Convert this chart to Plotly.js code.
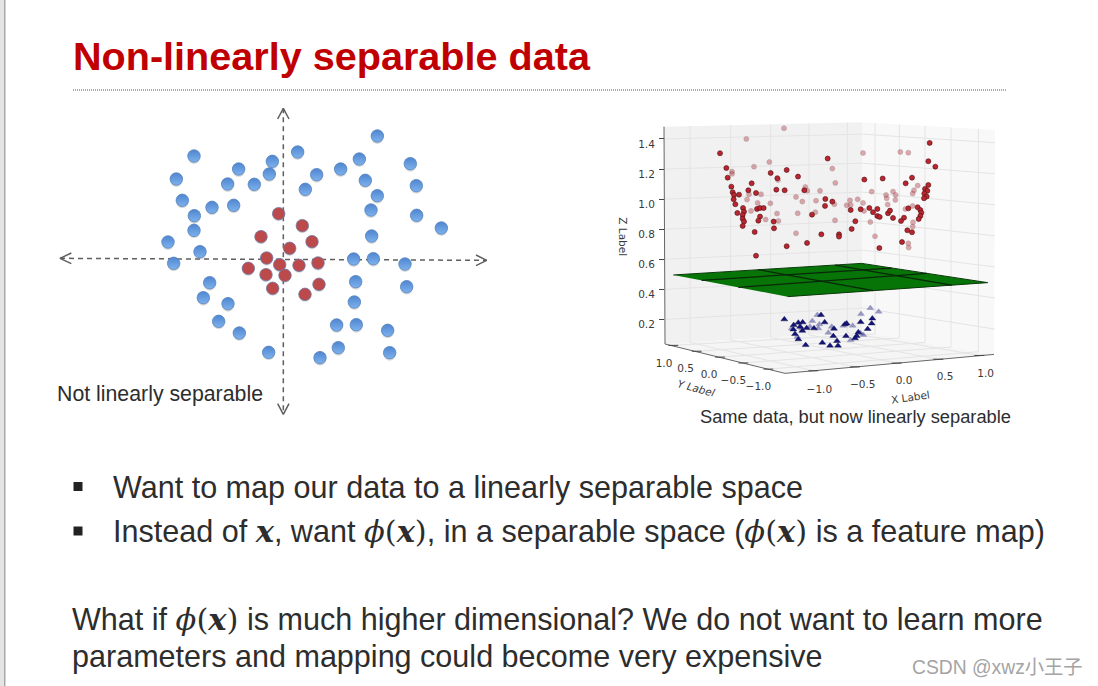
<!DOCTYPE html>
<html><head><meta charset="utf-8">
<script src="https://cdn.plot.ly/plotly-3.0.1.min.js"></script>
<style>html,body{margin:0;padding:0;background:#fff}#c{width:1098px;height:686px}</style>
</head><body><div id="c"></div>
<script>
// ---- left panel: two classes in the original (non separable) plane
const blueX=[282,43,-268,228,381,-33,-134,172,100,-42,-321,-167,-87,246,399,66,282,-303,-214,-149,263,-267,400,-268,474,265,-346,-250,-329,211,270,365,-221,217,370,-240,-166,213,-194,-132,160,219,313,165,-44,110,319];
const blueY=[370,322,310,301,287,294,271,271,254,256,241,226,225,237,221,210,191,177,156,162,148,131,132,87,94,70,52,23,-12,1,2,-14,-70,-67,-82,-115,-133,-128,-186,-221,-197,-196,-213,-265,-279,-295,-280];
const redX=[-14,57,-67,86,19,-50,-11,47,104,-105,-52,5,-32,107,65];
const redY=[137,101,68,53,33,4,-16,-18,-11,-27,-46,-48,-87,-75,-105];
const arrowH={x:[-670,610],y:[3,-3]};
const arrowV={x:[0,0],y:[453,-465]};
const headLeft={x:[-636,-670,-636],y:[19,3,-13]};
const headRight={x:[578,610,578],y:[13,-3,-19]};
const headTop={x:[-17,0,17],y:[421,453,421]};
const headBottom={x:[-17,0,17],y:[-433,-465,-433]};

// ---- right panel: projected 3D view (h = horizontal screen position, z = Z axis value)
const upperDarkH=[330,349,353,364,368,372,387,371,376,382,399,402,398,398,402,398,434,438,415,425,438,441,450,461,450,445,482,502,499,524,530,564,583,646,645,667,606,491,492,530,591,634,687,687,653,763,818,725,736,722,752,778,789,802,802,809,808,834,840,849,873,882,892,906,876,887,906,955,959,976,955,945,952,943,950,942,923,931,934,931,926,895];
const upperDarkZ=[1.305,1.207,1.143,1.083,1.046,1.028,1.030,0.999,0.966,0.908,0.941,0.917,0.895,0.870,0.851,0.822,0.782,0.624,1.059,1.105,1.041,0.935,0.941,0.941,0.884,0.857,1.174,1.139,1.063,1.059,1.194,1.150,1.059,1.001,0.955,0.984,0.897,0.851,0.806,0.687,0.709,0.766,0.766,0.751,1.270,1.130,1.137,0.802,0.853,0.928,0.933,0.941,0.913,0.935,0.888,0.882,0.675,0.906,0.924,0.875,0.855,0.877,0.793,0.780,0.715,1.105,1.143,1.252,1.374,1.216,1.094,1.068,1.055,1.037,1.017,1.006,0.946,0.928,0.910,0.888,0.868,0.939];
const upperFadedH=[522,409,478,432,366,366,504,453,411,417,423,443,467,481,501,505,558,577,563,616,618,630,586,592,558,667,676,673,675,710,720,722,743,759,759,762,781,795,785,828,830,849,857,856,833,871,895,923,912,908,886,908,909,908,895,896];
const upperFadedZ=[1.471,1.400,1.247,1.216,1.183,1.168,1.128,1.032,0.997,1.032,0.922,0.975,0.864,0.972,0.904,0.855,1.015,0.984,0.906,0.913,0.990,1.055,1.081,1.055,0.773,1.203,1.108,0.966,0.859,0.959,0.992,0.961,0.999,0.975,1.307,0.922,0.848,0.753,1.050,1.028,1.006,1.050,1.028,0.995,0.964,1.314,1.309,1.090,1.059,1.037,0.935,0.955,0.846,0.817,0.706,0.678];
const lowerDarkH=[523,551,565,578,570,577,590,612,633,644,672,550,555,565,587,637,660,684,681,705,710,752,787,785,773,745,740,735,708,670];
const lowerDarkZ=[0.201,0.163,0.179,0.181,0.152,0.125,0.143,0.141,0.230,0.181,0.139,0.134,0.103,0.068,0.030,0.046,0.026,0.026,0.057,0.168,0.174,0.183,0.207,0.174,0.137,0.115,0.090,0.075,0.090,0.090];
const lowerFadedH=[622,607,628,625,655,665,700,728,753,781,806,722,752,760,600,575,545,562];
const lowerFadedZ=[0.230,0.190,0.168,0.141,0.112,0.152,0.159,0.159,0.236,0.276,0.252,0.063,0.108,0.097,0.152,0.141,0.141,0.085];

const wallLeft={h:[162,757,757,165],z:[1.482,1.511,0.119,0.037]};
const wallRight={h:[757,1155,1152,757],z:[1.511,1.460,-0.032,0.119]};
const floorPane={h:[165,525,1152,757],z:[0.037,-0.158,-0.032,0.119]};
const zTicks=[0.2,0.4,0.6,0.8,1.0,1.2,1.4];
const zAtBack=[0.276,0.469,0.661,0.854,1.047,1.239,1.432];
const zAtRight=[0.136,0.343,0.549,0.756,0.962,1.169,1.375];
const gridLeftH=[240,362,482,597,712];
const gridLeftLow=[0.048,0.064,0.081,0.097,0.113];
const gridLeftTop=[1.486,1.492,1.498,1.503,1.509];
const gridRightH=[795,868,945,1023,1105];
const gridRightLow=[0.104,0.077,0.047,0.017,-0.014];
const gridRightTop=[1.506,1.497,1.487,1.477,1.467];
const yTickH=[190,260,330,400,475];
const yTickZ=[0.028,-0.011,-0.050,-0.089,-0.130];
const xTickH=[610,735,860,985,1108];
const xTickZ=[-0.141,-0.115,-0.090,-0.064,-0.039];
const yLabels=['1.0','0.5','0.0','\u22120.5','\u22121.0'];
const yLabelH=[162,227,297,370,445];
const yLabelZ=[-0.096,-0.129,-0.169,-0.213,-0.251];
const xLabels=['\u22121.0','\u22120.5','0.0','0.5','1.0'];
const xLabelH=[628,758,882,1005,1127];
const xLabelZ=[-0.269,-0.240,-0.209,-0.185,-0.163];
const planeH=[190,755,1133,533];
const planeZ=[0.496,0.573,0.445,0.352];
const planeLines=[[385,0.414,950,0.507],[275,0.460,845,0.542],[445,0.531,790,0.392],[675,0.562,1025,0.429]];

const traces=[];
const L={xaxis:'x',yaxis:'y',hoverinfo:'skip',showlegend:false};
const R={xaxis:'x2',yaxis:'y2',hoverinfo:'skip',showlegend:false};
const dashLine={color:'#5f5f5f',width:1.5,dash:'5px,4px'};
const headLine={color:'#5f5f5f',width:1.5};
[arrowH,arrowV].forEach(a=>traces.push({...L,x:a.x,y:a.y,mode:'lines',line:dashLine}));
[headLeft,headRight,headTop,headBottom].forEach(a=>traces.push({...L,x:a.x,y:a.y,mode:'lines',line:headLine}));
traces.push({...L,x:blueX,y:blueY.map(v=>v-6),mode:'markers',marker:{size:12,color:'#8a8a8a',opacity:0.3}});
traces.push({...L,x:redX,y:redY.map(v=>v-5),mode:'markers',marker:{size:12,color:'#8a8a8a',opacity:0.25}});
traces.push({...L,x:blueX,y:blueY,mode:'markers',marker:{size:12.5,color:'#4f85cf',gradient:{type:'vertical',color:'#7db2ee'},line:{color:'#5583bd',width:0.8}}});
traces.push({...L,x:redX,y:redY,mode:'markers',marker:{size:12.5,color:'#bd4a4a',line:{color:'#6a78a8',width:0.8}}});

// panes
[[wallLeft,'#f1f1f1'],[wallRight,'#f8f8f8'],[floorPane,'#f5f5f5']].forEach(([p,c])=>traces.push({...R,x:p.h,y:p.z,mode:'lines',fill:'toself',fillcolor:c,line:{width:0,color:c}}));
const grid={color:'#e4e4e4',width:1};
zTicks.forEach((z,i)=>{
  traces.push({...R,x:[162,757,1155],y:[z,zAtBack[i],zAtRight[i]],mode:'lines',line:grid});
});
gridLeftH.forEach((h,i)=>{
  traces.push({...R,x:[h,h],y:[gridLeftLow[i],gridLeftTop[i]],mode:'lines',line:grid});
  traces.push({...R,x:[h,xTickH[i]],y:[gridLeftLow[i],xTickZ[i]],mode:'lines',line:grid});
});
gridRightH.forEach((h,i)=>{
  traces.push({...R,x:[h,h],y:[gridRightLow[i],gridRightTop[i]],mode:'lines',line:grid});
  traces.push({...R,x:[h,yTickH[i]],y:[gridRightLow[i],yTickZ[i]],mode:'lines',line:grid});
});
// axis edges
traces.push({...R,x:[162,165,525,1152],y:[1.482,0.037,-0.158,-0.032],mode:'lines',line:{color:'#666',width:1}});
traces.push({...R,x:yTickH.concat(xTickH),y:yTickZ.concat(xTickZ),mode:'markers',marker:{symbol:'line-ew',size:7,line:{color:'#444',width:1}}});
// lower class, plane, upper class
traces.push({...R,x:lowerFadedH,y:lowerFadedZ,mode:'markers',marker:{symbol:'triangle-up',size:6,color:'#26268f',opacity:0.45,line:{color:'#15155a',width:0.4}}});
traces.push({...R,x:lowerDarkH,y:lowerDarkZ,mode:'markers',marker:{symbol:'triangle-up',size:6,color:'#14147a',line:{color:'#0a0a40',width:0.4}}});
traces.push({...R,x:planeH,y:planeZ,mode:'lines',fill:'toself',fillcolor:'#067406',line:{color:'#0b3a0b',width:1}});
planeLines.forEach(l=>traces.push({...R,x:[l[0],l[2]],y:[l[1],l[3]],mode:'lines',line:{color:'#0a280a',width:1.2}}));
traces.push({...R,x:upperFadedH,y:upperFadedZ,mode:'markers',marker:{size:5,color:'#b23a48',opacity:0.42,line:{color:'#5a1a1a',width:0.5}}});
traces.push({...R,x:upperDarkH,y:upperDarkZ,mode:'markers',marker:{size:5,color:'#bb2530',line:{color:'#4a1010',width:0.6}}});
const tickFont={family:'DejaVu Sans',size:10.5,color:'#3a3a3a'};
traces.push({...R,x:yLabelH,y:yLabelZ,text:yLabels,mode:'text',textposition:'middle center',textfont:tickFont});
traces.push({...R,x:xLabelH,y:xLabelZ,text:xLabels,mode:'text',textposition:'middle center',textfont:tickFont});

const body='Liberation Sans, Arial, sans-serif';
const ink='#2d2d2d';
const M=s=>'<span style="font-family:DejaVu Serif">'+s+'</span>';
const phi=M('<i>\u03d5</i>(<b><i>x</i></b>)');
function txt(text,px,py,size,extra){
  return Object.assign({xref:'paper',yref:'paper',x:px/1098,y:1-py/686,xanchor:'left',yanchor:'middle',align:'left',showarrow:false,text:text,font:{family:body,size:size,color:ink},borderpad:0},extra||{});
}
const ann=[
 txt('<b>Non-linearly separable data</b>',72,56,39.6,{font:{family:body,size:39.6,color:'#c00000'}}),
 txt('Not linearly separable',56,394,21.3),
 txt('Same data, but now linearly separable',699,416,18.3),
 txt('Want to map our data to a linearly separable space',112,487,30.55),
 txt('Instead of '+M('<b><i>x</i></b>')+', want '+phi+', in a separable space ('+phi+' is a feature map)',112,531,30.55),
 txt('What if '+phi+' is much higher dimensional? We do not want to learn more',71,619,30.55),
 txt('parameters and mapping could become very expensive',71,656,30.55),
 txt('CSDN @xwz\u5c0f\u738b\u5b50',911,667,19.3,{font:{family:'Liberation Sans, Noto Sans CJK SC',size:19.3,color:'#a4a4a4'}}),
 {xref:'x2',yref:'y2',x:40,y:0.751,text:'Z Label',textangle:90,showarrow:false,font:tickFont},
 {xref:'x2',yref:'y2',x:258,y:-0.258,text:'<i>Y Label</i>',textangle:15,showarrow:false,font:tickFont},
 {xref:'x2',yref:'y2',x:902,y:-0.318,text:'X Label',textangle:-8,showarrow:false,font:tickFont}
];
const layout={
 width:1098,height:686,margin:{l:0,r:0,t:0,b:0},paper_bgcolor:'#fff',plot_bgcolor:'rgba(0,0,0,0)',showlegend:false,
 xaxis:{domain:[50/1098,500/1098],range:[-700,650],visible:false,fixedrange:true},
 yaxis:{domain:[1-420/686,1-100/686],range:[-482,478],visible:false,fixedrange:true},
 xaxis2:{domain:[610/1098,1020/1098],range:[0,1230],visible:false,anchor:'y2',fixedrange:true},
 yaxis2:{domain:[1-440/686,1-100/686],range:[-0.601,1.659],anchor:'free',position:664/1098,side:'left',overlaying:false,
   tickvals:zTicks,ticktext:zTicks.map(v=>v.toFixed(1)),ticks:'outside',ticklen:5,tickcolor:'#444',ticklabelshift:5,ticklabelstandoff:2,showline:false,showgrid:false,zeroline:false,tickfont:tickFont,fixedrange:true},
 annotations:ann,
 shapes:[
  {type:'rect',xref:'paper',yref:'paper',x0:0,x1:4/1098,y0:0,y1:1,fillcolor:'#e4e4e4',line:{width:0},layer:'below'},
  {type:'rect',xref:'paper',yref:'paper',x0:4/1098,x1:5.5/1098,y0:0,y1:1,fillcolor:'#a8a8a8',line:{width:0},layer:'below'},
  {type:'line',xref:'paper',yref:'paper',x0:73/1098,x1:1006/1098,y0:1-90/686,y1:1-90/686,line:{color:'#555',width:1,dash:'1px,1px'}},
  {type:'rect',xref:'paper',yref:'paper',x0:73.5/1098,x1:82.5/1098,y0:1-491/686,y1:1-482/686,fillcolor:'#222',line:{width:0}},
  {type:'rect',xref:'paper',yref:'paper',x0:73.5/1098,x1:82.5/1098,y0:1-535.5/686,y1:1-526.5/686,fillcolor:'#222',line:{width:0}}
 ]
};
Plotly.newPlot('c',traces,layout,{displayModeBar:false,staticPlot:true});
</script></body></html>
